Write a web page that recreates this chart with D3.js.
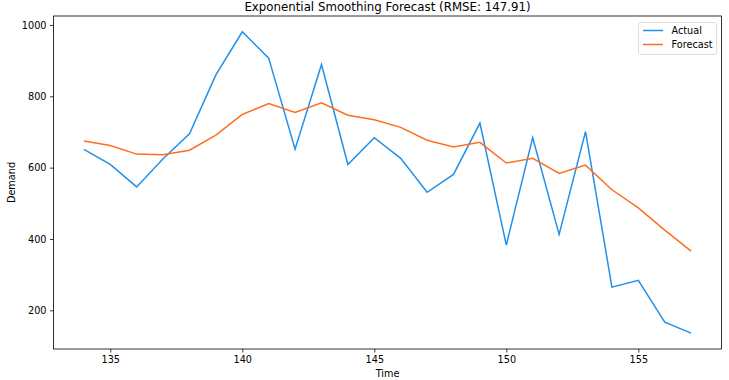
<!DOCTYPE html>
<html>
<head>
<meta charset="utf-8">
<script src="https://cdn.jsdelivr.net/npm/d3@7"></script>
<style>
body { margin:0; background:#fff; }
text { font-family: "DejaVu Sans", sans-serif; fill:#000; }
</style>
</head>
<body>
<svg id="chart" width="729" height="380"></svg>
<script>
// data
var times = d3.range(134, 158);
var actual = [651, 609, 546, 625, 695, 860, 981, 907, 652, 889, 609, 684,
              626, 531, 581, 725, 383, 684, 413, 701, 265, 284, 167, 136];
var forecast = [675, 662, 638, 636, 649, 691, 749, 780, 755, 782, 747, 734,
                713, 677, 658, 671, 613, 626, 584, 607, 538, 487, 425, 366];
var xTicks = [135, 140, 145, 150, 155];
var yTicks = [200, 400, 600, 800, 1000];

var svg = d3.select("#chart");
var margin = {left: 53.5, right: 7.5, top: 16, bottom: 31};
var w = 729 - margin.left - margin.right,
    h = 380 - margin.top - margin.bottom;

var x = d3.scaleLinear().domain([132.85, 158.15]).range([0, w]);
var y = d3.scaleLinear().domain([91.5, 1025.2]).range([h, 0]);

var g = svg.append("g").attr("transform", "translate(" + margin.left + "," + margin.top + ")");

var line = d3.line()
    .x(function (d) { return x(d[0]); })
    .y(function (d) { return y(d[1]); });

g.append("path")
    .datum(d3.zip(times, actual))
    .attr("d", line)
    .attr("fill", "none")
    .attr("stroke", "#2290e8")
    .attr("stroke-width", 1.5);

g.append("path")
    .datum(d3.zip(times, forecast))
    .attr("d", line)
    .attr("fill", "none")
    .attr("stroke", "#ff6e1c")
    .attr("stroke-width", 1.5);

// axes
var xAxis = g.append("g")
    .attr("transform", "translate(0," + h + ")")
    .call(d3.axisBottom(x).tickValues(xTicks).tickFormat(d3.format("d"))
        .tickSize(3.5).tickPadding(3.5).tickSizeOuter(0));
var yAxis = g.append("g")
    .call(d3.axisLeft(y).tickValues(yTicks).tickFormat(d3.format("d"))
        .tickSize(3.5).tickPadding(3.5).tickSizeOuter(0));
[xAxis, yAxis].forEach(function (a) {
    a.select(".domain").remove();
    a.selectAll("line").attr("stroke", "#000").attr("stroke-width", 0.8);
    a.selectAll("text").style("font-size", "9.7px").style("font-family", "DejaVu Sans");
});

// frame
g.append("rect")
    .attr("width", w).attr("height", h)
    .attr("fill", "none")
    .attr("stroke", "#000")
    .attr("stroke-width", 0.8);

svg.append("text")
    .attr("x", margin.left + w / 2).attr("y", 11)
    .attr("text-anchor", "middle")
    .style("font-size", "11.8px")
    .text("Exponential Smoothing Forecast (RMSE: 147.91)");

svg.append("text")
    .attr("x", margin.left + w / 2).attr("y", 377)
    .attr("text-anchor", "middle")
    .style("font-size", "9.7px")
    .text("Time");

svg.append("text")
    .attr("transform", "translate(15," + (margin.top + h / 2) + ") rotate(-90)")
    .attr("text-anchor", "middle")
    .style("font-size", "9.7px")
    .text("Demand");

// legend
var legend = svg.append("g").attr("transform", "translate(638.5,22.5)");
legend.append("rect")
    .attr("width", 78).attr("height", 32).attr("rx", 2)
    .attr("fill", "#fff").attr("fill-opacity", 0.8)
    .attr("stroke", "#d6d6d6").attr("stroke-width", 0.8);
var items = [{name: "Actual", color: "#2290e8"}, {name: "Forecast", color: "#ff6e1c"}];
items.forEach(function (it, i) {
    var yy = 8 + i * 14;
    legend.append("line")
        .attr("x1", 4.5).attr("x2", 24.5).attr("y1", yy).attr("y2", yy)
        .attr("stroke", it.color).attr("stroke-width", 1.5);
    legend.append("text")
        .attr("x", 33).attr("y", yy + 3.5)
        .style("font-size", "9.7px")
        .text(it.name);
});
</script>
</body>
</html>
